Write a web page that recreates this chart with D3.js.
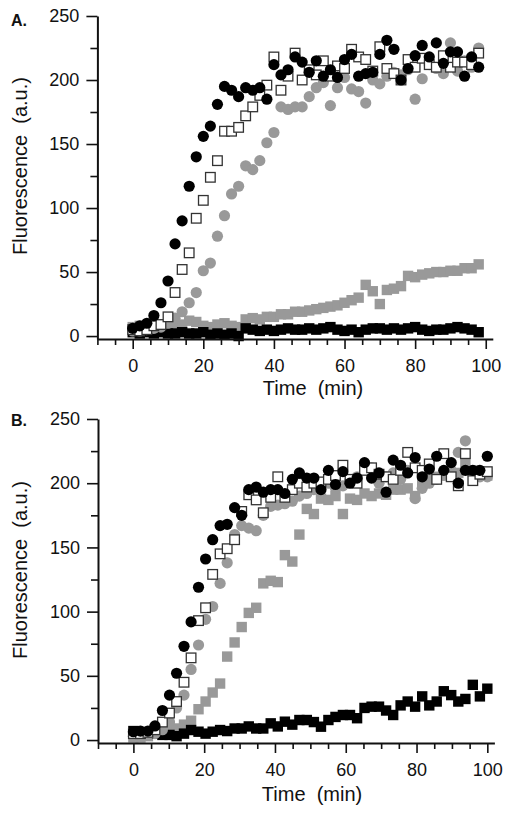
<!DOCTYPE html>
<html>
<head>
<meta charset="utf-8">
<script src="https://cdn.jsdelivr.net/npm/d3@7"></script>
<style>
  html, body { margin: 0; padding: 0; background: #fff; }
  svg { display: block; }
  text { font-family: "Liberation Sans", Arial, sans-serif; fill: #111; }
</style>
</head>
<body>
<svg id="chart" width="512" height="821"></svg>
<script>
// ---------- data ----------
const timeA = [0,2,4,6,8,10,12,14,16,18,20,22,24,26,28,30,32,34,36,38,40,42,44,46,48,50,52,54,56,58,60,62,64,66,68,70,72,74,76,78,80,82,84,86,88,90,92,94,96,98];
const timeB = [0,2,4.1,6.1,8.2,10.2,12.2,14.3,16.3,18.4,20.4,22.4,24.5,26.5,28.6,30.6,32.6,34.7,36.7,38.8,40.8,42.8,44.9,46.9,49,51,53,55.1,57.1,59.2,61.2,63.2,65.3,67.3,69.4,71.4,73.4,75.5,77.5,79.6,81.6,83.6,85.7,87.7,89.8,91.8,93.8,95.9,97.9,100];

const aBlackCircle = [6,8,10,16,26,43,72,90,117,140,156,164,181,195,192,187,194,192,194,185,212,204,208,218,214,206,215,203,208,202,216,220,203,205,206,220,231,224,200,209,219,227,218,229,213,222,222,203,218,210];
const aOpenSquare  = [5,4,5,8,9,15,34,52,65,92,106,124,137,160,160,163,172,179,188,196,218,192,203,221,200,208,204,215,203,211,209,224,218,216,207,226,209,205,200,216,210,217,212,210,219,210,214,214,212,221];
const aGrayCircle  = [4,4,5,6,7,10,14,19,26,34,51,57,78,94,111,117,133,130,137,151,159,179,177,179,179,187,194,198,180,194,202,193,191,182,200,197,203,206,204,208,185,201,212,209,205,229,207,215,210,225];
const aGraySquare  = [7,8,6,8,9,8,7,9,12,11,8,7,9,10,8,7,13,14,13,15,15,17,17,19,19,20,21,22,23,24,26,28,30,40,35,25,36,37,39,47,46,48,49,50,50,51,51,53,53,56];
const aBlackSquare = [3,2,3,2,3,2,2,3,2,2,3,1,2,1,2,0,6,5,4,5,4,5,6,5,5,6,5,6,7,5,4,5,3,5,6,6,5,6,5,6,7,5,4,5,5,6,7,6,5,3];

const bBlackCircle = [6.5,7,7,11,23,35,52,73,92,119,141,156,167,168,181,175,195,197,193,195,195,192,203,208,204,204,195,210,199,209,200,204,216,204,208,193,218,214,208,220,205,211,221,210,216,200,210,210,210,221];
const bOpenSquare  = [5,5,6,8,14,21,30,45,64,93,103,129,145,149,156,178,191,187,177,189,205,189,195,200,197,200,201,203,206,214,203,200,210,212,207,205,203,210,224,212,210,215,203,223,205,198,223,202,207,209];
const bGrayCircle  = [3,4,4,5,8,14,25,35,55,74,94,104,122,138,160,167,165,163,175,182,183,184,186,190,192,195,198,200,196,198,202,205,215,212,200,205,208,203,210,188,196,200,203,206,210,224,233,208,205,205];
const bGraySquare  = [2,2,3,5,8,10,9,12,15,24,30,37,44,65,76,88,99,103,122,124,123,144,139,160,180,176,188,187,190,176,188,187,192,190,192,191,195,195,196,190,201,203,205,207,205,208,215,210,207,206];
const bBlackSquare = [7,6,5,5,4,4,3,5,7.8,6.5,5,6.5,7.8,7,9,9,10.6,9,9,13,10.6,14.3,12,15.6,15.6,14,10.4,15.6,18,19.5,19.5,17,25,26,26,23,19.5,27,30,26,34,27,30,38,35,30,32,43,34,40];

const yMajorTicks = [0,50,100,150,200,250];
const yMinorTicks = [25,75,125,175,225];
const xMajorTicks = [0,20,40,60,80,100];
const xMinorTicks = [-10,-5,5,10,15,25,30,35,45,50,55,65,70,75,85,90,95];
const panelLabels = ["A.", "B."];
const xTitle = "Time  (min)";
const yTitle = "Fluorescence  (a.u.)";

// ---------- drawing ----------
const svg = d3.select("#chart");
svg.append("rect").attr("width", 512).attr("height", 821).attr("fill", "#fff");

const GRAY = "#999";

function drawPanel(cfg) {
  const x = d3.scaleLinear().domain([-10, 102]).range([cfg.x0, cfg.x1]);
  const y = d3.scaleLinear().domain([-2.3, 250]).range([cfg.yBottom, cfg.yTop]);
  const g = svg.append("g");

  // series: drawn back to front
  const layers = [
    {vals: cfg.graySquare, shape: "square", fill: GRAY, stroke: "none"},
    {vals: cfg.blackSquare, shape: "square", fill: "#000", stroke: "none"},
    {vals: cfg.grayCircle, shape: "circle", fill: GRAY, stroke: "none"},
    {vals: cfg.openSquare, shape: "open", fill: "#fff", stroke: "#333"},
    {vals: cfg.blackCircle, shape: "circle", fill: "#000", stroke: "none"}
  ];
  layers.forEach(L => {
    const pts = L.vals.map((v, i) => ({t: cfg.time[i], v}));
    if (L.shape === "circle") {
      g.append("g").selectAll("circle").data(pts).join("circle")
        .attr("cx", d => x(d.t)).attr("cy", d => y(d.v)).attr("r", 5.6)
        .attr("fill", L.fill);
    } else if (L.shape === "square") {
      const s = 10.4;
      g.append("g").selectAll("rect").data(pts).join("rect")
        .attr("x", d => x(d.t) - s / 2).attr("y", d => y(d.v) - s / 2)
        .attr("width", s).attr("height", s).attr("fill", L.fill);
    } else {
      const s = 9.6;
      g.append("g").selectAll("rect").data(pts).join("rect")
        .attr("x", d => x(d.t) - s / 2).attr("y", d => y(d.v) - s / 2)
        .attr("width", s).attr("height", s).attr("fill", L.fill)
        .attr("stroke", L.stroke).attr("stroke-width", 1.3);
    }
  });

  // y axis
  const yAxisG = g.append("g").attr("transform", `translate(${cfg.x0},0)`);
  yAxisG.call(d3.axisLeft(y).tickValues(yMajorTicks).tickSize(11).tickSizeOuter(0).tickPadding(7));
  yAxisG.append("g").call(d3.axisLeft(y).tickValues(yMinorTicks).tickSize(7).tickSizeOuter(0).tickFormat(""))
    .select(".domain").remove();
  // x axis
  const xAxisG = g.append("g").attr("transform", `translate(0,${cfg.yBottom})`);
  xAxisG.call(d3.axisBottom(x).tickValues(xMajorTicks).tickSize(10).tickSizeOuter(0).tickPadding(10));
  xAxisG.append("g").call(d3.axisBottom(x).tickValues(xMinorTicks).tickSize(6).tickSizeOuter(0).tickFormat(""))
    .select(".domain").remove();

  g.selectAll(".domain").attr("stroke", "#111").attr("stroke-width", 2);
  g.selectAll(".tick line").attr("stroke", "#111").attr("stroke-width", 1.6);
  g.selectAll(".tick text").attr("font-size", 18).attr("font-family", "Liberation Sans, Arial, sans-serif").attr("fill", "#111");

  // titles
  g.append("text").attr("x", cfg.xTitleX).attr("y", cfg.xTitleY)
    .attr("text-anchor", "middle").attr("font-size", 20).style("white-space", "pre")
    .text(xTitle);
  g.append("text")
    .attr("transform", `translate(${cfg.yTitleX},${cfg.yTitleY}) rotate(-90)`)
    .attr("text-anchor", "middle").attr("font-size", 20).style("white-space", "pre")
    .text(yTitle);
  g.append("text").attr("x", 11).attr("y", cfg.labelY)
    .attr("font-size", 16).attr("font-weight", "bold").text(cfg.label);
}

drawPanel({
  time: timeA, x0: 97.4, x1: 492.8, yBottom: 339, yTop: 16,
  blackCircle: aBlackCircle, openSquare: aOpenSquare, grayCircle: aGrayCircle,
  graySquare: aGraySquare, blackSquare: aBlackSquare,
  xTitleX: 313, xTitleY: 395, yTitleX: 27, yTitleY: 166, label: panelLabels[0], labelY: 26
});
drawPanel({
  time: timeB, x0: 98, x1: 494.4, yBottom: 743, yTop: 419,
  blackCircle: bBlackCircle, openSquare: bOpenSquare, grayCircle: bGrayCircle,
  graySquare: bGraySquare, blackSquare: bBlackSquare,
  xTitleX: 312, xTitleY: 801, yTitleX: 27, yTitleY: 570, label: panelLabels[1], labelY: 426
});
</script>
</body>
</html>
